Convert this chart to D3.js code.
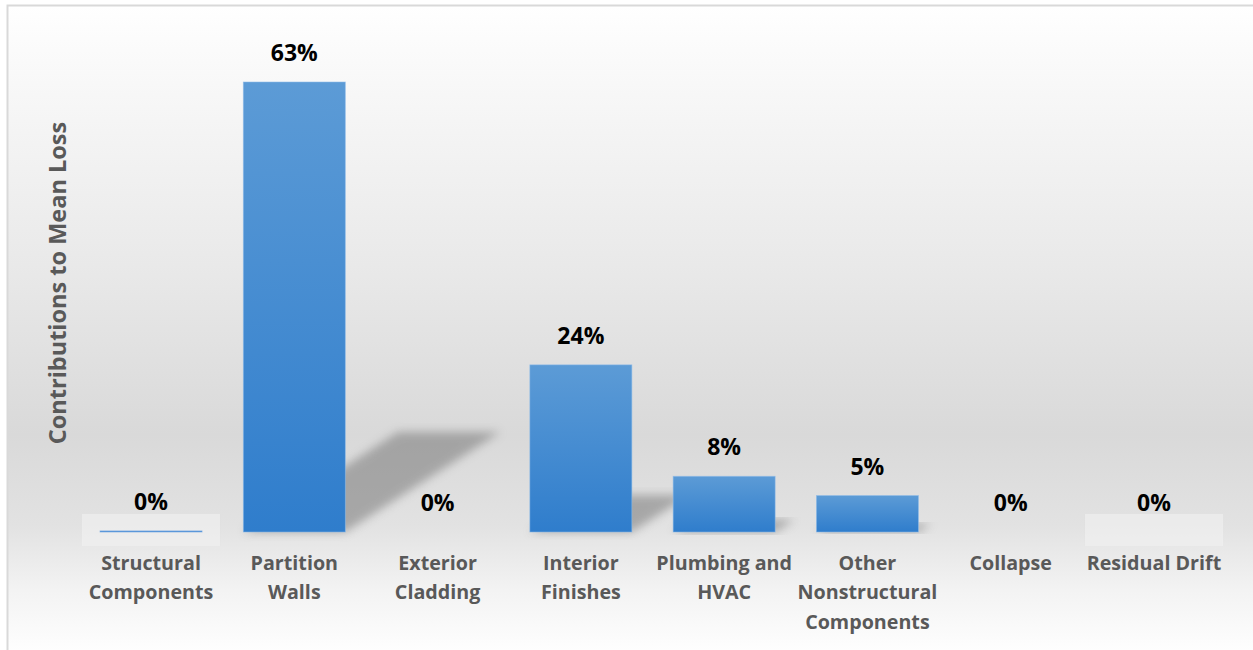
<!DOCTYPE html>
<html>
<head>
<meta charset="utf-8">
<script src="https://cdn.jsdelivr.net/npm/d3@7"></script>
<style>
  html, body { margin: 0; padding: 0; background: #fff; }
  svg { display: block; }
</style>
</head>
<body>
<div id="chart"></div>
<script>
// ---- data ----
const categories = [
  ["Structural", "Components"],
  ["Partition", "Walls"],
  ["Exterior", "Cladding"],
  ["Interior", "Finishes"],
  ["Plumbing and", "HVAC"],
  ["Other", "Nonstructural", "Components"],
  ["Collapse"],
  ["Residual Drift"]
];
const values = [0.15, 63.0, 0, 23.4, 7.8, 5.1, 0, 0];
const valueLabels = ["0%", "63%", "0%", "24%", "8%", "5%", "0%", "0%"];
const highlightBoxes = [0, 7]; // categories with a light label backdrop
const yTitle = "Contributions to Mean Loss";

// ---- layout ----
const W = 1253, H = 650;
const FONT = "'Open Sans', Lato, sans-serif";
const svg = d3.select("#chart").append("svg").attr("width", W).attr("height", H);
const defs = svg.append("defs");

const bg = defs.append("linearGradient").attr("id", "bg")
  .attr("x1", 0).attr("y1", 0).attr("x2", 0).attr("y2", 1);
[[0, "#ffffff"], [0.12, "#f8f8f8"], [0.4, "#e9e9e9"], [0.66, "#d9d9d9"],
 [0.8, "#e2e2e2"], [0.9, "#f3f3f3"], [1, "#ffffff"]]
  .forEach(([o, c]) => bg.append("stop").attr("offset", o).attr("stop-color", c));

const barGrad = defs.append("linearGradient").attr("id", "barGrad")
  .attr("x1", 0).attr("y1", 0).attr("x2", 0).attr("y2", 1);
[[0, "#5c9bd6"], [1, "#2f7dcc"]]
  .forEach(([o, c]) => barGrad.append("stop").attr("offset", o).attr("stop-color", c));

const blur = defs.append("filter").attr("id", "blur")
  .attr("x", "-20%").attr("y", "-20%").attr("width", "140%").attr("height", "140%");
blur.append("feGaussianBlur").attr("stdDeviation", 5);

svg.append("rect").attr("x", 7.5).attr("y", 5.5).attr("width", W).attr("height", H)
  .attr("fill", "url(#bg)").attr("stroke", "#d9d9d9").attr("stroke-width", 2);

const x = d3.scaleBand().domain(d3.range(categories.length))
  .range([79.4, 1225.6]).paddingInner(0.288).paddingOuter(0.144);
const y = d3.scaleLinear().domain([0, 70]).range([532, 32]);

const g = svg.append("g");

// label backdrops
g.selectAll("rect.box").data(highlightBoxes).join("rect")
  .attr("class", "box")
  .attr("x", i => x(i) - 18).attr("width", x.bandwidth() + 36)
  .attr("y", y(0) - 18).attr("height", 32)
  .attr("fill", "#f2f2f2").attr("opacity", 0.6);

// shadows
g.selectAll("path.shadow").data(values.map((v, i) => ({v, i})).filter(d => d.v > 1)).join("path")
  .attr("class", "shadow")
  .attr("d", d => {
    const h = y(0) - y(d.v);
    const dx = 0.344 * h, dy = 0.222 * h;
    const x0 = x(d.i), x1 = x(d.i) + x.bandwidth(), b = y(0);
    return `M${x0},${b}L${x1},${b}L${x1 + dx},${b - dy}L${x0 + dx},${b - dy}Z`;
  })
  .attr("fill", "#6e6e6e").attr("opacity", 0.5).attr("filter", "url(#blur)");

// bars
g.selectAll("rect.bar").data(values).join("rect")
  .attr("class", "bar")
  .attr("x", (d, i) => x(i)).attr("width", x.bandwidth())
  .attr("y", d => y(d)).attr("height", d => y(0) - y(d))
  .attr("fill", "url(#barGrad)")
  .attr("stroke", d => d > 0 && d < 1 ? "#6fa4e2" : "#8dbbe8")
  .attr("stroke-width", d => d > 0 ? 0.8 : 0)
  .attr("stroke-opacity", 0.7);

// value labels
g.selectAll("text.val").data(values).join("text")
  .attr("class", "val")
  .attr("x", (d, i) => x(i) + x.bandwidth() / 2)
  .attr("y", d => y(d) - 21)
  .attr("text-anchor", "middle")
  .attr("font-family", FONT)
  .attr("font-weight", 700).attr("font-size", 23).attr("fill", "#000")
  .text((d, i) => valueLabels[i]);

// category labels
const cat = g.selectAll("text.cat").data(categories).join("text")
  .attr("class", "cat")
  .attr("x", (d, i) => x(i) + x.bandwidth() / 2)
  .attr("y", y(0) + 38)
  .attr("text-anchor", "middle")
  .attr("font-family", FONT)
  .attr("font-weight", 700).attr("font-size", 19.7).attr("fill", "#595959");
cat.selectAll("tspan").data((d, i) => d.map(s => ({s, i}))).join("tspan")
  .attr("x", d => x(d.i) + x.bandwidth() / 2)
  .attr("dy", (d, j) => j === 0 ? 0 : 29.3)
  .text(d => d.s);

// y title
svg.append("text")
  .attr("transform", `translate(66,${(y(0) + 32) / 2 + 1}) rotate(-90)`)
  .attr("text-anchor", "middle")
  .attr("font-family", FONT)
  .attr("font-weight", 700).attr("font-size", 23.5).attr("fill", "#595959")
  .text(yTitle);
</script>
</body>
</html>
